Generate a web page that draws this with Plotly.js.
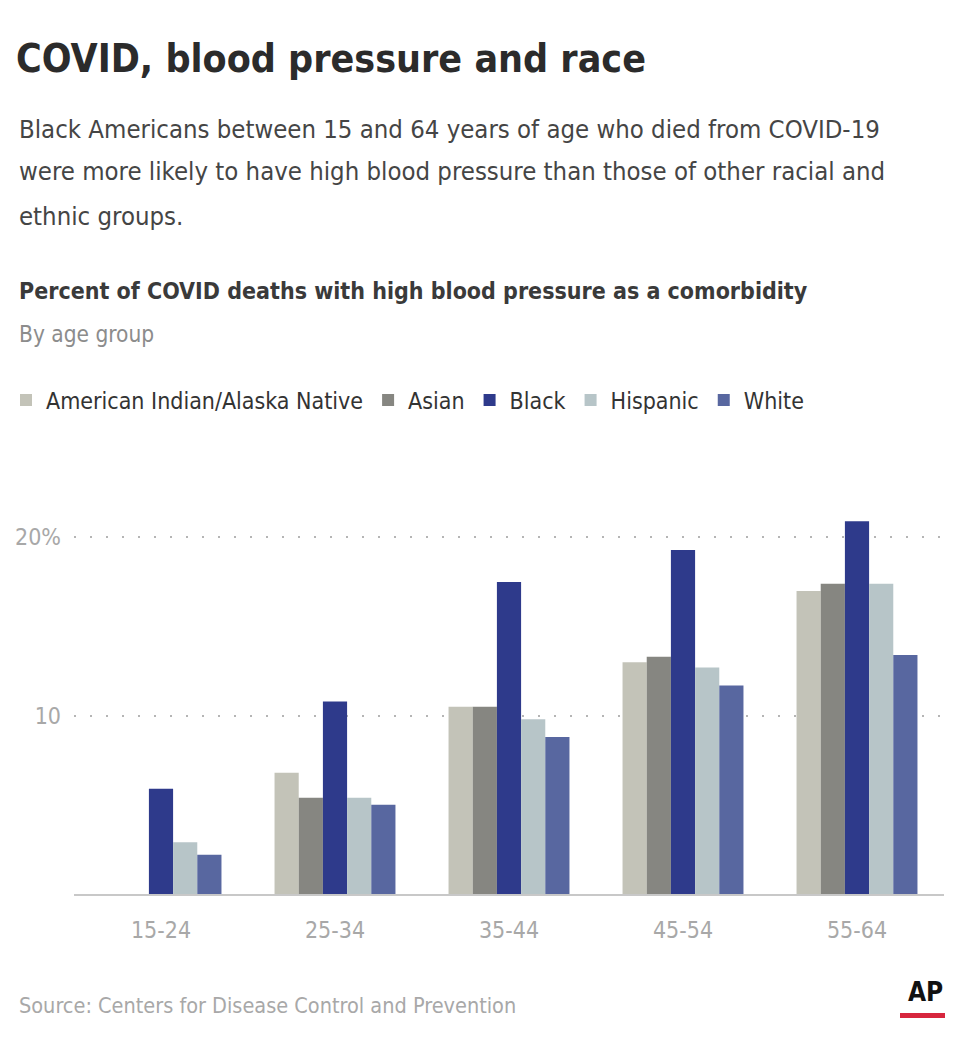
<!DOCTYPE html>
<html>
<head>
<meta charset="utf-8">
<script src="https://cdn.plot.ly/plotly-3.0.1.min.js"></script>
<style>
  html, body { margin: 0; padding: 0; background: #ffffff; }
  #chart { width: 960px; height: 1046px; }
</style>
</head>
<body>
<div id="chart"></div>
<script>
// ---- data ----
const ageGroups = ["15-24", "25-34", "35-44", "45-54", "55-64"];
const seriesNames = ["American Indian/Alaska Native", "Asian", "Black", "Hispanic", "White"];
const aianValues = [null, 6.8, 10.5, 13.0, 17.0];
const asianValues = [null, 5.4, 10.5, 13.3, 17.4];
const blackValues = [5.9, 10.8, 17.5, 19.3, 20.9];
const hispanicValues = [2.9, 5.4, 9.8, 12.7, 17.4];
const whiteValues = [2.2, 5.0, 8.8, 11.7, 13.4];
const yTickValues = [10, 20];
const yTickLabels = ["10", "20%"];

// ---- styling ----
const seriesColors = ["#c3c3b8", "#868681", "#2e3a8b", "#b7c5c8", "#5867a0"];
const allValues = [aianValues, asianValues, blackValues, hispanicValues, whiteValues];
const FONT = '"Liberation Sans Narrow", "DejaVu Sans Condensed", "Roboto", sans-serif';

const W = 960, H = 1046;
const M = { l: 74, r: 16, t: 516, b: 152 };
const plotW = W - M.l - M.r, plotH = H - M.t - M.b;
const px = x => (x - M.l) / plotW;
const py = y => (H - M.b - y) / plotH;

const traces = seriesNames.map((name, i) => ({
  type: "bar",
  name: name,
  x: ageGroups,
  y: allValues[i],
  marker: { color: seriesColors[i], line: { width: 0 } },
  hoverinfo: "x+y+name"
}));

const annotations = [
  { text: "Black Americans between 15 and 64 years of age who died from COVID-19", x: px(17), y: py(129), size: 25.5, color: "#454545" },
  { text: "were more likely to have high blood pressure than those of other racial and", x: px(17), y: py(171), size: 25.5, color: "#454545" },
  { text: "ethnic groups.", x: px(17), y: py(216), size: 25.5, color: "#454545" },
  { text: "<b>Percent of COVID deaths with high blood pressure as a comorbidity</b>", x: px(17), y: py(291), size: 23, color: "#3a3a3a" },
  { text: "By age group", x: px(17), y: py(334), size: 22.5, color: "#8c8c8c" },
  { text: "Source: Centers for Disease Control and Prevention", x: px(17), y: py(1005), size: 21.5, color: "#a8a8a8" },
  { text: "<b>AP</b>", x: px(945), y: py(992), size: 26, color: "#111111", xanchor: "right" }
].map(a => ({
  text: a.text, xref: "paper", yref: "paper", x: a.x, y: a.y,
  xanchor: a.xanchor || "left", yanchor: "middle", showarrow: false,
  font: { family: FONT, size: a.size, color: a.color }
}));

const layout = {
  width: W, height: H,
  margin: M,
  paper_bgcolor: "#ffffff",
  plot_bgcolor: "#ffffff",
  title: {
    text: "<b>COVID, blood pressure and race</b>",
    x: 16 / W, xanchor: "left", xref: "container",
    y: 1 - 58 / H, yanchor: "middle", yref: "container",
    font: { family: FONT, size: 39, color: "#2b2b2b" }
  },
  barmode: "group",
  bargap: 0.305,
  bargroupgap: 0,
  showlegend: true,
  legend: {
    orientation: "h",
    xref: "container", yref: "container",
    x: 6 / W, xanchor: "left",
    y: 1 - 400 / H, yanchor: "middle",
    font: { family: FONT, size: 23, color: "#333333" },
    itemwidth: 30,
    traceorder: "normal",
    bgcolor: "rgba(0,0,0,0)"
  },
  xaxis: {
    type: "category",
    tickfont: { family: FONT, size: 23, color: "#a8a8a8" },
    showgrid: false,
    zeroline: false,
    showline: true, linecolor: "#c8c8c8", linewidth: 2,
    ticks: "", ticklabelstandoff: 14
  },
  yaxis: {
    range: [0, 21.2],
    tickvals: yTickValues,
    ticktext: yTickLabels,
    tickfont: { family: FONT, size: 23, color: "#a8a8a8" },
    showgrid: true, gridcolor: "#b5b5b5", gridwidth: 2, griddash: "2px,14px",
    zeroline: false, showline: false, ticks: "",
    ticklabelstandoff: 12,
    fixedrange: true
  },
  shapes: [
    { type: "rect", xref: "paper", yref: "paper", x0: px(900), x1: px(945), y0: py(1013), y1: py(1018), fillcolor: "#d7263d", line: { width: 0 } }
  ],
  annotations: annotations
};

Plotly.newPlot("chart", traces, layout, { displayModeBar: false, staticPlot: true });
</script>
</body>
</html>
